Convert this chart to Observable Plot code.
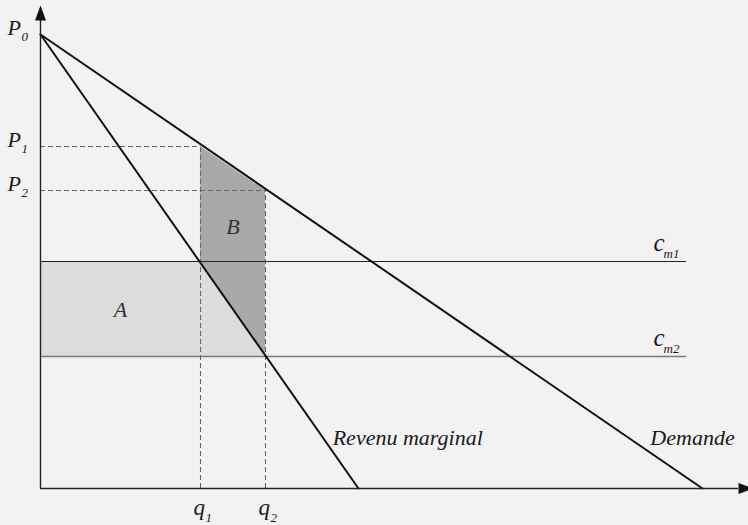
<!DOCTYPE html>
<html>
<head>
<meta charset="utf-8">
<script src="https://cdn.jsdelivr.net/npm/d3@7"></script>
<script src="https://cdn.jsdelivr.net/npm/@observablehq/plot@0.6"></script>
<style>
  html, body { margin: 0; padding: 0; background: #f2f2f2; }
  #chart svg { display: block; }
</style>
</head>
<body>
<div id="chart"></div>
<script>
// ---- Data ----
const priceSubscripts = ["0", "1", "2"];
const priceValues = [454, 342, 298];            // P0, P1, P2
const quantitySubscripts = ["1", "2"];
const quantityValues = [160, 225];              // q1, q2
const costSubscripts = ["m1", "m2"];
const costValues = [227, 132];                  // cm1, cm2
const costLineEnd = 646;
const curveNames = ["Revenu marginal", "Demande"];
const curveXIntercepts = [318, 662];            // both start at P0 on the price axis
const areaNames = ["A", "B"];
const axisExtent = [698, 468];                  // x max, y max of the drawn axes

// ---- Derived tables ----
const [P0, P1, P2] = priceValues;
const [q1, q2] = quantityValues;
const [cm1, cm2] = costValues;
const curves = curveNames.map((name, i) => ({name, pts: [[0, P0], [curveXIntercepts[i], 0]]}));
const labelLevel = 44;
const curveLabels = curves.map((c, i) => ({
  name: c.name,
  x: curveXIntercepts[i] * (1 - labelLevel / P0),
  y: labelLevel
}));
const areaB = [
  {q: q1, lo: cm1, hi: P1},
  {q: q2, lo: cm2, hi: P2}
];
const areaLabelPos = [
  {name: areaNames[0], x: q1 / 2, y: (cm1 + cm2) / 2},
  {name: areaNames[1], x: (q1 + q2) / 2, y: (P2 + cm1) / 2}
];
const priceRows = priceValues.map((v, i) => ({v, s: priceSubscripts[i]}));
const qRows = quantityValues.map((v, i) => ({v, s: quantitySubscripts[i]}));
const costRows = costValues.map((v, i) => ({v, s: costSubscripts[i]}));

const arrowHead = {
  draw(ctx) {
    ctx.moveTo(0, -15);
    ctx.lineTo(5.5, 0);
    ctx.lineTo(-5.5, 0);
    ctx.closePath();
  }
};

const serif = "'Liberation Serif', 'Times New Roman', serif";
const ink = "#1a1a1a";

const chart = Plot.plot({
  width: 748,
  height: 525,
  marginLeft: 40,
  marginRight: 0,
  marginTop: 20,
  marginBottom: 37,
  x: {domain: [0, 708], axis: null},
  y: {domain: [0, 468], axis: null},
  style: {background: "#f2f2f2", overflow: "visible"},
  marks: [
    // Area A (light)
    Plot.rect([{x1: 0, x2: q2, y1: cm2, y2: cm1}], {x1: "x1", x2: "x2", y1: "y1", y2: "y2", fill: "#dcdcdc"}),
    // Area B (dark)
    Plot.areaY(areaB, {x: "q", y1: "lo", y2: "hi", fill: "#a9a9a9", curve: "linear"}),
    // cost lines
    Plot.ruleY([cm1], {x1: 0, x2: costLineEnd, stroke: "#222", strokeWidth: 1.2}),
    Plot.ruleY([cm2], {x1: 0, x2: costLineEnd, stroke: "#7a7a7a", strokeWidth: 1.6}),
    // dashed guides
    Plot.ruleY([P1], {x1: 0, x2: q1, stroke: "#666", strokeWidth: 1.1, strokeDasharray: "5,3"}),
    Plot.ruleY([P2], {x1: 0, x2: q2, stroke: "#666", strokeWidth: 1.1, strokeDasharray: "5,3"}),
    Plot.ruleX([q1], {y1: 0, y2: P1, stroke: "#666", strokeWidth: 1.1, strokeDasharray: "5,3"}),
    Plot.ruleX([q2], {y1: 0, y2: P2, stroke: "#666", strokeWidth: 1.1, strokeDasharray: "5,3"}),
    // curves
    ...curves.map(c => Plot.line(c.pts, {stroke: "#111", strokeWidth: 2})),
    // axes
    Plot.ruleX([0], {y1: 0, y2: axisExtent[1], stroke: "#222", strokeWidth: 1.4}),
    Plot.ruleY([0], {x1: 0, x2: axisExtent[0], stroke: "#222", strokeWidth: 1.4}),
    Plot.dot([[0, axisExtent[1]]], {symbol: arrowHead, r: 5, fill: "#111", stroke: "none"}),
    Plot.dot([[axisExtent[0], 0]], {symbol: arrowHead, r: 5, fill: "#111", stroke: "none", rotate: 90}),
    // price labels
    Plot.text(priceRows, {x: 0, y: "v", text: () => "P", dx: -33, dy: 0, textAnchor: "start", lineAnchor: "bottom",
      fontFamily: serif, fontStyle: "italic", fontSize: 22, fill: ink}),
    Plot.text(priceRows, {x: 0, y: "v", text: "s", dx: -19, dy: 6, textAnchor: "start", lineAnchor: "bottom",
      fontFamily: serif, fontStyle: "italic", fontSize: 13, fill: ink}),
    // quantity labels
    Plot.text(qRows, {x: "v", y: 0, text: () => "q", dx: -7, dy: 26, textAnchor: "start", lineAnchor: "bottom",
      fontFamily: serif, fontStyle: "italic", fontSize: 23, fill: ink}),
    Plot.text(qRows, {x: "v", y: 0, text: "s", dx: 5, dy: 33, textAnchor: "start", lineAnchor: "bottom",
      fontFamily: serif, fontStyle: "italic", fontSize: 13, fill: ink}),
    // cost labels
    Plot.text(costRows, {x: costLineEnd, y: "v", text: () => "c", dx: -33, dy: -11, textAnchor: "start", lineAnchor: "bottom",
      fontFamily: serif, fontStyle: "italic", fontSize: 25, fill: ink}),
    Plot.text(costRows, {x: costLineEnd, y: "v", text: "s", dx: -23, dy: -4, textAnchor: "start", lineAnchor: "bottom",
      fontFamily: serif, fontStyle: "italic", fontSize: 13, fill: ink}),
    // area labels
    Plot.text(areaLabelPos, {x: "x", y: "y", text: "name", dy: 8, textAnchor: "middle", lineAnchor: "bottom",
      fontFamily: serif, fontStyle: "italic", fontSize: 22, fill: "#333"}),
    // curve labels
    Plot.text(curveLabels.slice(0, 1), {x: "x", y: "y", text: "name", dx: 5, dy: 0, textAnchor: "start", lineAnchor: "bottom",
      fontFamily: serif, fontStyle: "italic", fontSize: 22, fill: ink}),
    Plot.text(curveLabels.slice(1), {x: "x", y: "y", text: "name", dx: 12, dy: 0, textAnchor: "start", lineAnchor: "bottom",
      fontFamily: serif, fontStyle: "italic", fontSize: 22, fill: ink})
  ]
});
document.getElementById("chart").appendChild(chart);
</script>
</body>
</html>
